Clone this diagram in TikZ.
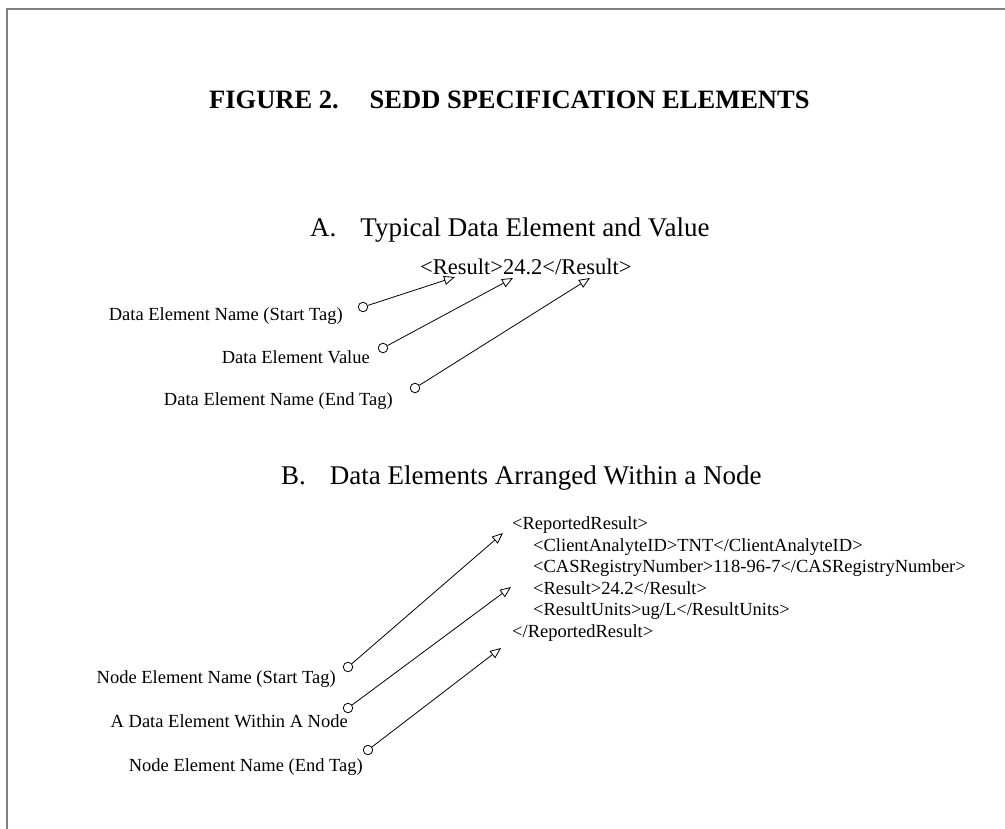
\documentclass[tikz,border=0pt]{standalone}
\usepackage{fontspec}
\setmainfont{Liberation Serif}
\usetikzlibrary{arrows.meta}
\tikzset{
  frame/.style={draw=black!50, line width=2pt},
  title/.style={font=\fontsize{26.5}{30}\selectfont\bfseries, anchor=base west, inner sep=0pt},
  heading/.style={font=\fontsize{27}{31}\selectfont, anchor=base west, inner sep=0pt},
  sample/.style={font=\fontsize{22.5}{26}\selectfont, anchor=base west, inner sep=0pt},
  xml/.style={font=\fontsize{18.5}{21.5}\selectfont, anchor=base west, inner sep=0pt},
  callout/.style={font=\fontsize{18.5}{21.5}\selectfont, anchor=base east, inner sep=0pt},
  ring/.style={circle, draw, minimum size=9.5pt, inner sep=0pt, line width=0.8pt},
  pointer/.style={draw, line width=0.8pt, -{Triangle[open, length=11pt, width=9pt]}},
}
\begin{document}
\begin{tikzpicture}[x=1pt,y=-1pt]
\useasboundingbox (0,0) rectangle (1005,829);
% page frame: top and left edges only
\draw[frame] (1005,9.5) -- (7,9.5) -- (7,829);

\node[title] (title) at (209,109) {FIGURE 2.\hspace{31pt}SEDD SPECIFICATION ELEMENTS};

% ---- part A ----
\node[heading] (headA) at (310,237) {A.\hspace{24pt}Typical Data Element and Value};
\node[sample] (sample) at (420,275) {<Result>24.2</Result>};
\coordinate (tA1) at (455,277);
\coordinate (tA2) at (513,278);
\coordinate (tA3) at (590,278);

\node[callout] (lA1) at (343,321) {Data Element Name (Start Tag)};
\node[callout] (lA2) at (370,363) {Data Element Value};
\node[callout] (lA3) at (393,405) {Data Element Name (End Tag)};
\node[ring] (rA1) at (363,307) {};
\node[ring] (rA2) at (383,348) {};
\node[ring] (rA3) at (415,388) {};
\draw[pointer] (rA1) -- (tA1);
\draw[pointer] (rA2) -- (tA2);
\draw[pointer] (rA3) -- (tA3);

% ---- part B ----
\node[heading] (headB) at (281,484) {B.\hspace{24pt}Data Elements Arranged Within a Node};
\node[xml] (x1) at (512,529) {<ReportedResult>};
\node[xml] (x2) at (533,551) {<ClientAnalyteID>TNT</ClientAnalyteID>};
\node[xml] (x3) at (533,572) {<CASRegistryNumber>118-96-7</CASRegistryNumber>};
\node[xml] (x4) at (533,594) {<Result>24.2</Result>};
\node[xml] (x5) at (533,615) {<ResultUnits>ug/L</ResultUnits>};
\node[xml] (x6) at (512,637) {</ReportedResult>};
\coordinate (tB1) at (503,533);
\coordinate (tB2) at (511,587);
\coordinate (tB3) at (501,648);

\node[callout] (lB1) at (336,683) {Node Element Name (Start Tag)};
\node[callout] (lB2) at (348,727) {A Data Element Within A Node};
\node[callout] (lB3) at (363,771) {Node Element Name (End Tag)};
\node[ring] (rB1) at (348,667) {};
\node[ring] (rB2) at (348,708) {};
\node[ring] (rB3) at (368,750) {};
\draw[pointer] (rB1) -- (tB1);
\draw[pointer] (rB2) -- (tB2);
\draw[pointer] (rB3) -- (tB3);
\end{tikzpicture}
\end{document}
